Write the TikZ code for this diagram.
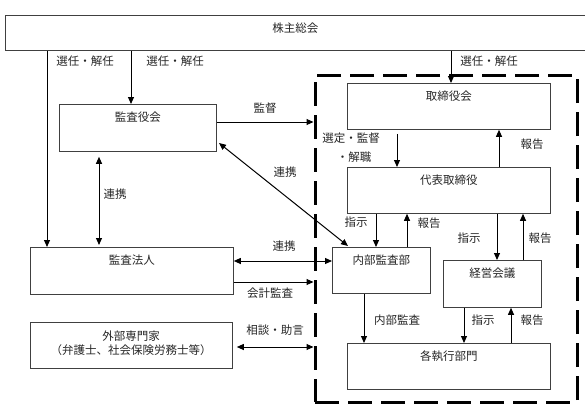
\documentclass[tikz,border=0pt]{standalone}
\usepackage{fontspec}
\setmainfont{Noto Sans CJK JP}
\usetikzlibrary{arrows.meta}
\begin{document}
\begin{tikzpicture}[x=1pt,y=-1pt,
 box/.style={draw=black!75, line width=0.8pt, anchor=north west, inner sep=0pt},
 tip/.tip={Triangle[length=7pt,width=6pt]},
 arr/.style={-tip, line width=1pt},
 darr/.style={tip-tip, line width=1pt},
 lbl/.style={font=\fontsize{11.5}{14}\selectfont, text=black!85, inner sep=0pt},
 btxt/.style={lbl, anchor=center, yshift=-13pt}]
\useasboundingbox (0,0) rectangle (585,415);
% boxes
\node[box, minimum width=580, minimum height=35, label={[btxt]north:株主総会}] (kabu) at (5,15) {};
\node[box, minimum width=157, minimum height=47, label={[btxt]north:監査役会}] (kansayaku) at (59,104) {};
\node[box, minimum width=203, minimum height=47, label={[btxt]north:監査法人}] (hojin) at (30,247) {};
\node[box, minimum width=202, minimum height=46] (gaibu) at (30,322) {};
\node[lbl, align=center] (gaibut) at (131,343) {外部専門家\\（弁護士、社会保険労務士等）};
\node[draw, line width=3pt, dash pattern=on 24pt off 9pt, anchor=north west, inner sep=0pt,
      minimum width=262, minimum height=327] (dbox) at (313.5,73.5) {};
\node[box, minimum width=203, minimum height=46, label={[btxt]north:取締役会}] (tori) at (347,83) {};
\node[box, minimum width=203, minimum height=46, label={[btxt]north:代表取締役}] (daihyo) at (347,167) {};
\node[box, minimum width=98, minimum height=46, label={[btxt]north:内部監査部}] (naibu) at (332,247) {};
\node[box, minimum width=98, minimum height=47, label={[btxt]north:経営会議}] (keiei) at (443,260) {};
\node[box, minimum width=203, minimum height=46, label={[btxt]north:各執行部門}] (shikko) at (347,343) {};
% helper coordinates
\coordinate (X47) at (47,0);
\coordinate (X131) at (131,0);
\coordinate (X451) at (451,0);
\coordinate (X99) at (99,0);
\coordinate (X397) at (397,0);
\coordinate (X499) at (499,0);
\coordinate (X376) at (376,0);
\coordinate (X407) at (407,0);
\coordinate (X497) at (497,0);
\coordinate (X523) at (523,0);
\coordinate (X364) at (364,0);
\coordinate (X464) at (464,0);
\coordinate (X511) at (511,0);
\coordinate (Y122) at (0,122);
\coordinate (Y261) at (0,261);
\coordinate (Y282) at (0,282);
\coordinate (Y347) at (0,347);
\coordinate (dgA) at (219,143);
\coordinate (dgB) at (348,246);
% connectors
\draw[arr] (kabu.south -| X47) -- (hojin.north -| X47);
\draw[arr] (kabu.south -| X131) -- (kansayaku.north -| X131);
\draw[arr] (kabu.south -| X451) -- (tori.north -| X451);
\draw[arr] (kansayaku.east |- Y122) -- (dbox.west |- Y122);
\draw[darr, shorten <=5pt, shorten >=2pt] (kansayaku.south -| X99) -- (hojin.north -| X99);
\draw[darr] (dgA) -- (dgB);
\draw[darr] (hojin.east |- Y261) -- (naibu.west |- Y261);
\draw[arr] (hojin.east |- Y282) -- (dbox.west |- Y282);
\draw[darr, shorten <=4pt] (gaibu.east |- Y347) -- (dbox.west |- Y347);
\draw[arr, shorten <=4pt] (tori.south -| X397) -- (daihyo.north -| X397);
\draw[arr] (daihyo.north -| X499) -- (tori.south -| X499);
\draw[arr] (daihyo.south -| X376) -- (naibu.north -| X376);
\draw[arr] (naibu.north -| X407) -- (daihyo.south -| X407);
\draw[arr] (daihyo.south -| X497) -- (keiei.north -| X497);
\draw[arr] (keiei.north -| X523) -- (daihyo.south -| X523);
\draw[arr] (naibu.south -| X364) -- (shikko.north -| X364);
\draw[arr] (keiei.south -| X464) -- (shikko.north -| X464);
\draw[arr] (shikko.north -| X511) -- (keiei.south -| X511);
% labels
\node[lbl] (l1) at (85,61) {選任・解任};
\node[lbl] (l2) at (175,61) {選任・解任};
\node[lbl] (l3) at (489,61) {選任・解任};
\node[lbl] (l4) at (265,108) {監督};
\node[lbl] (l5) at (115,194) {連携};
\node[lbl] (l6) at (285,172) {連携};
\node[lbl] (l7) at (284,246) {連携};
\node[lbl] (l8) at (270,293) {会計監査};
\node[lbl] (l9) at (275,330) {相談・助言};
\node[lbl] (l10) at (351,138) {選定・監督};
\node[lbl] (l11) at (354,157) {・解職};
\node[lbl] (l12) at (532,144) {報告};
\node[lbl] (l13) at (356,222) {指示};
\node[lbl] (l14) at (429,223) {報告};
\node[lbl] (l15) at (469,238) {指示};
\node[lbl] (l16) at (540,238) {報告};
\node[lbl] (l17) at (397,320) {内部監査};
\node[lbl] (l18) at (483,320) {指示};
\node[lbl] (l19) at (532,320) {報告};
\end{tikzpicture}
\end{document}
